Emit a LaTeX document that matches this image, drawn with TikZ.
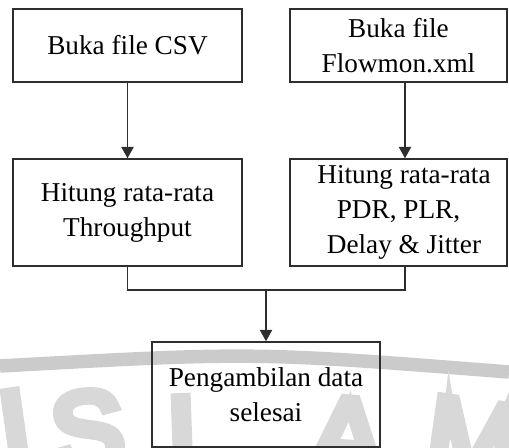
\documentclass[tikz,border=0pt]{standalone}
\usepackage{xcolor}
\usepackage{fontspec}
\setmainfont{Liberation Serif}
\newfontfamily\wmfont{Liberation Sans}[FakeBold=9]
\usetikzlibrary{arrows.meta}

\definecolor{garisabu}{HTML}{2E2E2E}
\definecolor{hurufabu}{HTML}{D8D8D8}
\definecolor{pitaabu}{HTML}{CBCBCB}

\tikzset{
  kotak/.style={draw=garisabu, line width=0.85pt, align=center, inner sep=0pt,
    font=\fontsize{15.5}{20}\selectfont},
  panah/.style={draw=garisabu, line width=0.85pt, -{Triangle[width=7pt,length=6.5pt]}},
  garis/.style={draw=garisabu, line width=0.85pt},
  huruf/.style={text=hurufabu, anchor=north, inner sep=0pt,
    font=\wmfont\fontsize{62}{62}\selectfont}
}

\begin{document}
\begin{tikzpicture}[x=0.02cm,y=-0.02cm]
    \useasboundingbox (0,0) rectangle (509,448);

    % 背景水印
    \draw[pitaabu, line width=0.27cm] (0,366) .. controls (254,352) .. (509,372);
    \node[huruf, rotate=8] (wmI) at (10,392) {I};
    \node[huruf, rotate=5] (wmS) at (84,392) {S};
    \node[huruf, rotate=2] (wmL) at (197,397) {L};
    \node[huruf, rotate=-4] (wmA) at (350,399) {A};
    \node[huruf, rotate=-8] (wmM) at (478,402) {M};

    % 定义节点
    \node[kotak, minimum width=4.58cm, minimum height=1.46cm] (csv) at (127.5,45.5) {Buka file CSV};
    \node[kotak, minimum width=4.34cm, minimum height=1.46cm] (xml) at (398.5,45.5) {Buka file\\Flowmon.xml};
    \node[kotak, minimum width=4.58cm, minimum height=2.14cm] (thr) at (127.5,212.5) {Hitung rata-rata\\Throughput};
    \node[kotak, minimum width=4.34cm, minimum height=2.14cm] (pdr) at (398.5,212.5)
        {\hspace*{0.22cm}Hitung rata-rata\\PDR, PLR,\hspace*{0.3cm}\\\hspace*{0.22cm}Delay \& Jitter};
    \node[kotak, minimum width=4.56cm, minimum height=2.1cm] (end) at (266,394.5) {Pengambilan data\\selesai};

    \coordinate (tengah) at (266,290);

    % 连线
    \draw[panah] (csv) -- (thr);
    \draw[panah] ([xshift=0.13cm]xml.south) -- ([xshift=0.13cm]pdr.north);
    \draw[garis] (thr.south) |- (tengah) -| ([xshift=0.13cm]pdr.south);
    \draw[panah] (tengah) -- (end);

\end{tikzpicture}
\end{document}
